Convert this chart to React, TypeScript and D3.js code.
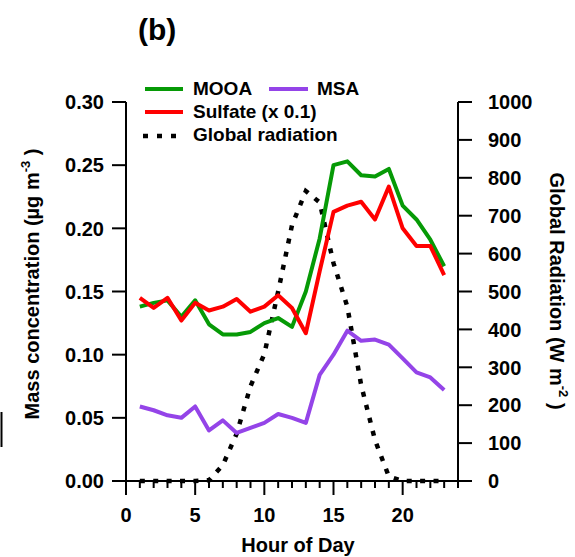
import React from 'react';
import * as d3 from 'd3';

const hours = [1, 2, 3, 4, 5, 6, 7, 8, 9, 10, 11, 12, 13, 14, 15, 16, 17, 18, 19, 20, 21, 22, 23];
const mooa = [0.138, 0.141, 0.143, 0.130, 0.143, 0.124, 0.116, 0.116, 0.118, 0.125, 0.129, 0.122, 0.150, 0.192, 0.250, 0.253, 0.242, 0.241, 0.247, 0.218, 0.207, 0.191, 0.170];
const sulfateScaled = [0.145, 0.137, 0.145, 0.127, 0.141, 0.135, 0.138, 0.144, 0.134, 0.138, 0.147, 0.137, 0.117, 0.166, 0.213, 0.218, 0.221, 0.207, 0.233, 0.200, 0.186, 0.186, 0.163];
const msa = [0.059, 0.056, 0.052, 0.050, 0.059, 0.040, 0.048, 0.038, 0.042, 0.046, 0.053, 0.050, 0.046, 0.084, 0.100, 0.119, 0.111, 0.112, 0.108, 0.097, 0.086, 0.082, 0.072];
const radiation = [0, 0, 0, 0, 0, 2, 42, 125, 250, 335, 500, 675, 765, 735, 575, 460, 253, 108, 12, 0, 0, 0, 0];

const xMajorTicks = [0, 5, 10, 15, 20];
const xMinorTicks = [0, 1, 2, 3, 4, 5, 6, 7, 8, 9, 10, 11, 12, 13, 14, 15, 16, 17, 18, 19, 20, 21, 22, 23, 24];
const leftTicks = [0, 0.05, 0.1, 0.15, 0.2, 0.25, 0.3];
const rightTicks = [0, 100, 200, 300, 400, 500, 600, 700, 800, 900, 1000];

const GREEN = '#069a06';
const RED = '#ff0000';
const PURPLE = '#9444e8';
const FONT = '"Liberation Sans", Arial, sans-serif';

export default function App() {
  const W = 575, H = 557;
  const x = d3.scaleLinear().domain([0, 24]).range([126, 458]);
  const y = d3.scaleLinear().domain([0, 0.3]).range([481, 102]);
  const y2 = d3.scaleLinear().domain([0, 1000]).range([481, 102]);

  const lineL = d3.line<number>().x((_, i) => x(hours[i])).y(d => y(d));
  const lineR = d3.line<number>().x((_, i) => x(hours[i])).y(d => y2(d));

  const x0 = x.range()[0], x1 = x.range()[1];
  const yb = y.range()[0], yt = y.range()[1];

  return (
    <svg width={W} height={H} style={{ position: 'absolute', left: 0, top: 0, background: '#fff' }}
      fontFamily={FONT} fontWeight="bold">
      <rect width={W} height={H} fill="#fff" />
      {/* stray mark at left edge */}
      <line x1={1.5} x2={1.5} y1={412} y2={447} stroke="#000" strokeWidth={2} />

      <text x={138} y={40} fontSize={30}>(b)</text>

      {/* data lines */}
      <path d={lineR(radiation) || ''} fill="none" stroke="#000" strokeWidth={4.5} strokeDasharray="5 8.4" />
      <path d={lineL(msa) || ''} fill="none" stroke={PURPLE} strokeWidth={4} strokeLinejoin="round" />
      <path d={lineL(mooa) || ''} fill="none" stroke={GREEN} strokeWidth={4} strokeLinejoin="round" />
      <path d={lineL(sulfateScaled) || ''} fill="none" stroke={RED} strokeWidth={4} strokeLinejoin="round" />

      {/* axes */}
      <g stroke="#000" strokeWidth={2}>
        <line x1={x0} x2={x0} y1={yt} y2={yb} />
        <line x1={x1} x2={x1} y1={yt} y2={yb} />
        <line x1={x0} x2={x1} y1={yb} y2={yb} />
        {leftTicks.map(t => <line key={'l' + t} x1={x0 - 14} x2={x0} y1={y(t)} y2={y(t)} />)}
        {rightTicks.map(t => <line key={'r' + t} x1={x1} x2={x1 + 14} y1={y2(t)} y2={y2(t)} />)}
        {xMinorTicks.map(t => (
          <line key={'x' + t} x1={x(t)} x2={x(t)} y1={yb} y2={yb + (xMajorTicks.includes(t) ? 14 : 7)} />
        ))}
      </g>
      <g fontSize={20} fill="#000">
        {leftTicks.map(t => (
          <text key={'lt' + t} x={104} y={y(t)} dy="0.36em" textAnchor="end">{d3.format('.2f')(t)}</text>
        ))}
        {rightTicks.map(t => (
          <text key={'rt' + t} x={488} y={y2(t)} dy="0.36em" textAnchor="start">{t}</text>
        ))}
        {xMajorTicks.map(t => (
          <text key={'xt' + t} x={x(t)} y={522} textAnchor="middle">{t}</text>
        ))}
        <text x={298} y={552} textAnchor="middle">Hour of Day</text>
        <text transform="translate(39,284) rotate(-90)" textAnchor="middle">
          Mass concentration (µg m<tspan dy={-9} fontSize={13}>-3</tspan><tspan dy={9}> )</tspan>
        </text>
        <text transform="translate(550,291) rotate(90)" textAnchor="middle">
          Global Radiation (W m<tspan dy={-9} fontSize={13}>-2</tspan><tspan dy={9}> )</tspan>
        </text>
      </g>

      {/* legend */}
      <g fontSize={19} fill="#000">
        <line x1={145} x2={183} y1={89} y2={89} stroke={GREEN} strokeWidth={4} />
        <text x={193} y={95}>MOOA</text>
        <line x1={269} x2={308} y1={89} y2={89} stroke={PURPLE} strokeWidth={4} />
        <text x={317} y={95}>MSA</text>
        <line x1={145} x2={183} y1={112} y2={112} stroke={RED} strokeWidth={4} />
        <text x={193} y={118}>Sulfate (x 0.1)</text>
        <line x1={143} x2={178} y1={136} y2={136} stroke="#000" strokeWidth={4.5} strokeDasharray="5 9" />
        <text x={193} y={141}>Global radiation</text>
      </g>
    </svg>
  );
}
